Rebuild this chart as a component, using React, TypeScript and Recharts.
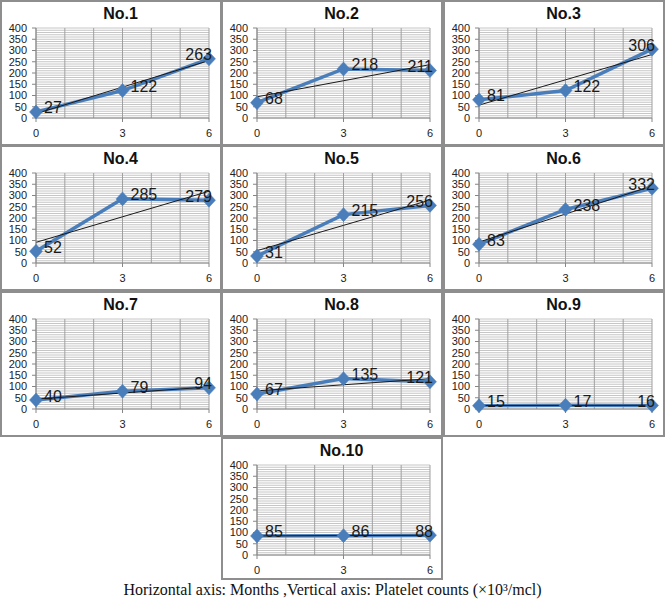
import React from 'react';
import { LineChart, Line, XAxis, YAxis, CartesianGrid, LabelList } from 'recharts';

const months = [0, 3, 6];
const titles = ['No.1', 'No.2', 'No.3', 'No.4', 'No.5', 'No.6', 'No.7', 'No.8', 'No.9', 'No.10'];
const no1 = [27, 122, 263];
const no2 = [68, 218, 211];
const no3 = [81, 122, 306];
const no4 = [52, 285, 279];
const no5 = [31, 215, 256];
const no6 = [83, 238, 332];
const no7 = [40, 79, 94];
const no8 = [67, 135, 121];
const no9 = [15, 17, 16];
const no10 = [85, 86, 88];
const series = [no1, no2, no3, no4, no5, no6, no7, no8, no9, no10];
const yTicks = [0, 50, 100, 150, 200, 250, 300, 350, 400];
const xTicks = [0, 3, 6];
const caption = 'Horizontal axis: Months ,Vertical axis: Platelet counts (×10³/mcl)';

const hMinor: number[] = [];
for (let v = 0; v <= 400; v += 10) hMinor.push(v);
const vGrid = [0, 1, 2, 3, 4, 5, 6];

const positions = [
  { left: 0, top: 0 }, { left: 221, top: 0 }, { left: 443, top: 0 },
  { left: 0, top: 145 }, { left: 221, top: 145 }, { left: 443, top: 145 },
  { left: 0, top: 291 }, { left: 221, top: 291 }, { left: 443, top: 291 },
  { left: 221, top: 437 },
];

const W = 222;
const H = 146;
const BLUE = '#4a7ebb';
const FONT = '"Liberation Sans", Arial, sans-serif';

function buildData(vals: number[]) {
  // least-squares linear trendline through the observed points
  const n = months.length;
  const mx = months.reduce((a, b) => a + b, 0) / n;
  const my = vals.reduce((a, b) => a + b, 0) / n;
  let num = 0, den = 0;
  months.forEach((m, i) => { num += (m - mx) * (vals[i] - my); den += (m - mx) * (m - mx); });
  const slope = num / den;
  const icpt = my - slope * mx;
  return months.map((m, i) => ({ m, v: vals[i], t: icpt + slope * m }));
}

const Diamond = (props: any) => {
  const { cx, cy, index } = props;
  if (cx == null || cy == null) return <g key={`e${index}`} />;
  const w = 6.5, h = 7;
  return (
    <path key={`d${index}`} d={`M${cx},${cy - h} L${cx + w},${cy} L${cx},${cy + h} L${cx - w},${cy} Z`} fill={BLUE} stroke={BLUE} strokeWidth={0.5} />
  );
};

const renderLabel = (props: any) => {
  const { x, y, value, index } = props;
  const last = index === months.length - 1;
  return (
    <text key={`l${index}`} x={last ? x + 3 : x + 8} y={y - 4} textAnchor={last ? 'end' : 'start'} dominantBaseline="central" fontSize={16} fontFamily={FONT} fill="#1a1a1a">
      {value}
    </text>
  );
};

function Panel({ idx }: { idx: number }) {
  const data = buildData(series[idx]);
  const pos = positions[idx];
  const h = idx === 9 ? 143 : H;
  return (
    <div style={{ position: 'absolute', left: pos.left, top: pos.top, width: W, height: h }}>
      <LineChart width={W} height={h} data={data} margin={{ top: 28, right: 13, bottom: h - 118 - 20, left: 6 }}>
        <CartesianGrid horizontal={true} vertical={false} horizontalValues={hMinor} stroke="#c6c6c6" strokeWidth={1} />
        <CartesianGrid horizontal={false} vertical={true} verticalValues={vGrid} stroke="#a0a0a0" strokeWidth={1} />
        <XAxis dataKey="m" type="number" domain={[0, 6]} ticks={xTicks} interval={0} height={20}
          axisLine={{ stroke: '#868686' }} tickLine={{ stroke: '#868686' }} tickSize={4} tickMargin={7}
          tick={{ fontSize: 11, fontFamily: FONT, fill: '#222' }} />
        <YAxis type="number" domain={[0, 400]} ticks={yTicks} interval={0} width={30}
          axisLine={{ stroke: '#868686' }} tickLine={{ stroke: '#868686' }} tickSize={4} tickMargin={5}
          tick={{ fontSize: 11, fontFamily: FONT, fill: '#222' }} />
        <Line dataKey="v" stroke={BLUE} strokeWidth={3.5} dot={Diamond} activeDot={false} isAnimationActive={false} />
        <Line dataKey="t" stroke="#1a1a1a" strokeWidth={1} dot={false} activeDot={false} isAnimationActive={false} />
        <Line dataKey="v" stroke="none" dot={false} activeDot={false} isAnimationActive={false}>
          <LabelList dataKey="v" content={renderLabel} />
        </Line>
      </LineChart>
      <div style={{ position: 'absolute', left: 30, top: 6, width: 181, textAlign: 'center', fontFamily: FONT, fontWeight: 'bold', fontSize: 16, lineHeight: '16px', color: '#111' }}>
        {titles[idx]}
      </div>
      <div style={{ position: 'absolute', left: 0, top: 0, width: W, height: h, boxSizing: 'border-box', border: '2px solid #8e8e8e', pointerEvents: 'none' }} />
    </div>
  );
}

export default function App() {
  return (
    <div style={{ position: 'absolute', left: 0, top: 0, width: 665, height: 600, background: '#fff', overflow: 'hidden' }}>
      {titles.map((_, i) => <Panel key={i} idx={i} />)}
      <div style={{ position: 'absolute', left: 0, top: 581, width: 665, textAlign: 'center', fontFamily: '"Liberation Serif", "Times New Roman", serif', fontSize: 16, lineHeight: '18px', color: '#111' }}>
        {caption}
      </div>
    </div>
  );
}
